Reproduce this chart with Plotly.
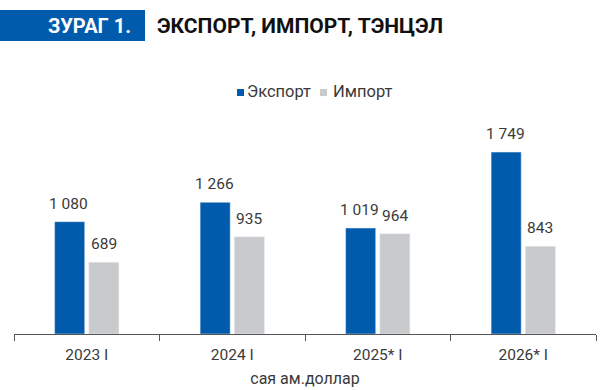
import plotly.graph_objects as go

categories = ["2023 I", "2024 I", "2025* I", "2026* I"]
export_vals = [1080, 1266, 1019, 1749]
import_vals = [689, 935, 964, 843]
series_names = ["Экспорт", "Импорт"]

BLUE = "#005BAC"
GRAY = "#C9CACC"
TXT = "#3A3A3A"

# plot area in pixels
L, R, T, B = 14, 11, 100, 56
PW, PH = 607 - L - R, 390 - T - B


def px(x):
    return (x - L) / PW


def py(y):
    return (390 - B - y) / PH


fig = go.Figure()
fig.add_trace(go.Bar(name=series_names[0], x=categories, y=export_vals, marker_color=BLUE))
fig.add_trace(go.Bar(name=series_names[1], x=categories, y=import_vals, marker_color=GRAY))


def fmt(v):
    return f"{v:,}".replace(",", " ")


annotations = []
for c, v in zip(categories, export_vals):
    annotations.append(dict(x=c, y=v, xref="x", yref="y", text=fmt(v), showarrow=False,
                            xshift=-18, yshift=7, yanchor="bottom",
                            font=dict(size=15.5, color=TXT, family="Roboto")))
for c, v in zip(categories, import_vals):
    annotations.append(dict(x=c, y=v, xref="x", yref="y", text=fmt(v), showarrow=False,
                            xshift=17, yshift=7, yanchor="bottom",
                            font=dict(size=15.5, color=TXT, family="Roboto")))

# title texts
annotations.append(dict(x=px(133), y=py(26), xref="paper", yref="paper",
                        text="<b>ЗУРАГ 1.</b>", showarrow=False, xanchor="right", yanchor="middle",
                        font=dict(size=20, color="white", family="Roboto")))
annotations.append(dict(x=px(155), y=py(26), xref="paper", yref="paper",
                        text="<b>ЭКСПОРТ, ИМПОРТ, ТЭНЦЭЛ</b>", showarrow=False, xanchor="left", yanchor="middle",
                        font=dict(size=21, color="#111111", family="Roboto")))

# legend (drawn manually for exact spacing)
annotations.append(dict(x=px(245), y=py(92), xref="paper", yref="paper", text=series_names[0],
                        showarrow=False, xanchor="left", yanchor="middle",
                        font=dict(size=16.5, color=TXT, family="Roboto")))
annotations.append(dict(x=px(331), y=py(92), xref="paper", yref="paper", text=series_names[1],
                        showarrow=False, xanchor="left", yanchor="middle",
                        font=dict(size=16.5, color=TXT, family="Roboto")))

shapes = [
    dict(type="rect", xref="paper", yref="paper", x0=px(0), x1=px(145), y0=py(41), y1=py(10),
         fillcolor=BLUE, line=dict(width=0), layer="above"),
    dict(type="rect", xref="paper", yref="paper", x0=px(237), x1=px(244), y0=py(96), y1=py(89),
         fillcolor=BLUE, line=dict(width=0)),
    dict(type="rect", xref="paper", yref="paper", x0=px(320), x1=px(327), y0=py(96), y1=py(89),
         fillcolor=GRAY, line=dict(width=0)),
]

fig.update_layout(
    width=607, height=390,
    margin=dict(l=L, r=R, t=T, b=B, autoexpand=False),
    paper_bgcolor="white", plot_bgcolor="white",
    barmode="group", bargap=0.53, bargroupgap=0.12,
    font=dict(family="Roboto", size=14, color=TXT),
    showlegend=False,
    annotations=annotations,
    shapes=shapes,
)
fig.update_xaxes(showline=True, linecolor="#555555", linewidth=1, automargin=False,
                 ticks="outside", ticklen=6, tickcolor="#555555", tickson="boundaries",
                 tickfont=dict(size=15.5, color=TXT), ticklabelstandoff=6,
                 title=dict(text="сая ам.доллар", font=dict(size=16, color=TXT), standoff=10))
fig.update_yaxes(visible=False, range=[0, 2250], showgrid=False, automargin=False)

fig.write_html("out.html", config={"displayModeBar": False},
               post_script="document.body.style.margin='0';")
